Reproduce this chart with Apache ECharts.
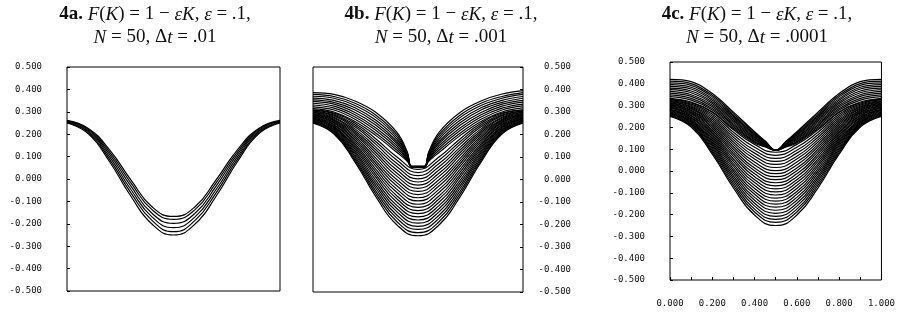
<!DOCTYPE html>
<html>
<head>
<meta charset="utf-8">
<script src="https://cdn.jsdelivr.net/npm/echarts@6/dist/echarts.min.js"></script>
<style>
  html, body { margin: 0; padding: 0; background: #fff; }
  #chart { width: 898px; height: 322px; }
</style>
</head>
<body>
<div id="chart"></div>
<script>
// sample positions along K (x axis) for the U-shaped curves
var xsU = [0, 0.1, 0.2, 0.3, 0.4, 0.5, 0.6, 0.7, 0.8, 0.9, 1];

// 4a: dt = .01
var curvesA = [
  [.250, .202, .077, -.077, -.202, -.250, -.202, -.077, .077, .202, .250],
  [.252, .207, .088, -.062, -.186, -.235, -.186, -.062, .088, .207, .252],
  [.255, .212, .099, -.047, -.170, -.217, -.170, -.047, .099, .212, .255],
  [.257, .217, .110, -.032, -.154, -.198, -.154, -.032, .110, .217, .257],
  [.260, .222, .120, -.017, -.138, -.180, -.138, -.017, .120, .222, .260],
  [.262, .226, .130, -.004, -.125, -.167, -.125, -.004, .130, .226, .262]
];

// 4b: dt = .001, rounded curves
var curvesBU = [
  [.250, .202, .077, -.077, -.202, -.250, -.202, -.077, .077, .202, .250],
  [.253, .206, .085, -.065, -.188, -.236, -.188, -.065, .085, .206, .253],
  [.256, .211, .093, -.053, -.173, -.222, -.173, -.053, .093, .211, .256],
  [.259, .215, .102, -.040, -.159, -.208, -.159, -.040, .102, .215, .259],
  [.261, .220, .110, -.028, -.144, -.194, -.144, -.028, .110, .220, .261],
  [.264, .224, .118, -.016, -.130, -.180, -.130, -.016, .118, .224, .264],
  [.267, .229, .126, -.004, -.116, -.166, -.116, -.004, .126, .229, .267],
  [.270, .233, .135, .009, -.101, -.152, -.101, .009, .135, .233, .270],
  [.273, .237, .143, .021, -.087, -.138, -.087, .021, .143, .237, .273],
  [.276, .242, .151, .033, -.073, -.124, -.073, .033, .151, .242, .276],
  [.279, .246, .159, .045, -.058, -.110, -.058, .045, .159, .246, .279],
  [.281, .251, .168, .058, -.044, -.095, -.044, .058, .168, .251, .281],
  [.284, .255, .176, .070, -.029, -.081, -.029, .070, .176, .255, .284],
  [.287, .260, .184, .082, -.015, -.067, -.015, .082, .184, .260, .287],
  [.290, .264, .192, .094, -.001, -.053, -.001, .094, .192, .264, .290],
  [.293, .268, .201, .107, .014, -.039, .014, .107, .201, .268, .293],
  [.296, .273, .209, .119, .028, -.025, .028, .119, .209, .273, .296],
  [.299, .277, .217, .131, .042, -.011, .042, .131, .217, .277, .299],
  [.301, .282, .225, .143, .057, .003, .057, .143, .225, .282, .301],
  [.304, .286, .234, .156, .071, .017, .071, .156, .234, .286, .304],
  [.307, .291, .242, .168, .086, .031, .086, .168, .242, .291, .307],
  [.310, .295, .250, .180, .100, .045, .100, .180, .250, .295, .310]
];

// 4b: curves that fall into the notch
var xsBV = [0, 0.1, 0.2, 0.3, 0.4, 0.45, 0.47, 0.53, 0.55, 0.6, 0.7, 0.8, 0.9, 1];
var curvesBV = [
  [.315, .300, .258, .195, .120, .080, .055, .055, .080, .120, .195, .258, .300, .318],
  [.323, .309, .268, .206, .130, .084, .055, .055, .084, .130, .206, .268, .309, .327],
  [.331, .317, .278, .218, .140, .089, .056, .056, .089, .140, .218, .278, .317, .335],
  [.339, .326, .288, .229, .150, .093, .056, .056, .093, .150, .229, .288, .326, .344],
  [.347, .335, .298, .241, .160, .098, .057, .057, .098, .160, .241, .298, .335, .352],
  [.354, .343, .309, .252, .169, .102, .057, .057, .102, .169, .252, .309, .343, .361],
  [.362, .352, .319, .263, .179, .107, .057, .057, .107, .179, .263, .319, .352, .369],
  [.370, .361, .329, .275, .189, .111, .058, .058, .111, .189, .275, .329, .361, .378],
  [.378, .369, .339, .286, .199, .116, .058, .058, .116, .199, .286, .339, .369, .386],
  [.386, .378, .349, .298, .209, .120, .058, .058, .120, .209, .298, .349, .380, .395]
];

// 4c: dt = .0001, rounded curves
var curvesCU = [
  [.250, .202, .077, -.077, -.202, -.250, -.202, -.077, .077, .202, .250],
  [.253, .207, .085, -.066, -.188, -.236, -.188, -.066, .085, .207, .253],
  [.257, .211, .093, -.055, -.175, -.222, -.175, -.055, .093, .211, .257],
  [.260, .216, .101, -.044, -.161, -.208, -.161, -.044, .101, .216, .260],
  [.263, .220, .109, -.033, -.148, -.194, -.148, -.033, .109, .220, .263],
  [.267, .225, .117, -.022, -.134, -.180, -.134, -.022, .117, .225, .267],
  [.270, .229, .125, -.011, -.121, -.166, -.121, -.011, .125, .229, .270],
  [.273, .234, .133, .000, -.107, -.152, -.107, .000, .133, .234, .273],
  [.277, .238, .141, .011, -.094, -.138, -.094, .011, .141, .238, .277],
  [.280, .243, .149, .022, -.080, -.124, -.080, .022, .149, .243, .280],
  [.283, .247, .157, .033, -.067, -.110, -.067, .033, .157, .247, .283],
  [.287, .252, .165, .044, -.053, -.096, -.053, .044, .165, .252, .287],
  [.290, .256, .173, .055, -.040, -.082, -.040, .055, .173, .256, .290],
  [.293, .261, .180, .067, -.026, -.068, -.026, .067, .180, .261, .293],
  [.297, .266, .188, .078, -.013, -.054, -.013, .078, .188, .266, .297],
  [.300, .270, .196, .089, .001, -.040, .001, .089, .196, .270, .300],
  [.303, .275, .204, .100, .014, -.026, .014, .100, .204, .275, .303],
  [.307, .279, .212, .111, .028, -.012, .028, .111, .212, .279, .307],
  [.310, .284, .220, .122, .041, .002, .041, .122, .220, .284, .310],
  [.313, .288, .228, .133, .055, .016, .055, .133, .228, .288, .313],
  [.317, .293, .236, .144, .068, .030, .068, .144, .236, .293, .317],
  [.320, .297, .244, .155, .082, .044, .082, .155, .244, .297, .320],
  [.323, .302, .252, .166, .095, .058, .095, .166, .252, .302, .323],
  [.327, .307, .260, .178, .109, .072, .109, .178, .260, .307, .327],
  [.330, .312, .268, .189, .122, .086, .122, .189, .268, .312, .330]
];

// 4c: curves meeting in the cusp
var xsCV = [0, 0.1, 0.2, 0.3, 0.4, 0.45, 0.5, 0.55, 0.6, 0.7, 0.8, 0.9, 1];
var curvesCV = [
  [.333, .316, .272, .195, .128, .110, .095, .110, .128, .195, .272, .316, .333],
  [.341, .325, .280, .202, .133, .113, .095, .113, .133, .202, .280, .325, .341],
  [.349, .333, .287, .209, .137, .115, .095, .115, .137, .209, .287, .333, .349],
  [.357, .342, .295, .215, .142, .118, .095, .118, .142, .215, .295, .342, .357],
  [.365, .350, .302, .222, .147, .120, .095, .120, .147, .222, .302, .350, .365],
  [.373, .359, .310, .229, .152, .123, .095, .123, .152, .229, .310, .359, .373],
  [.380, .367, .317, .236, .156, .125, .095, .125, .156, .236, .317, .367, .380],
  [.388, .376, .325, .243, .161, .128, .095, .128, .161, .243, .325, .376, .388],
  [.396, .384, .332, .250, .166, .130, .095, .130, .166, .250, .332, .384, .396],
  [.404, .393, .340, .256, .170, .133, .095, .133, .170, .256, .340, .393, .404],
  [.412, .401, .347, .263, .175, .135, .095, .135, .175, .263, .347, .401, .412],
  [.420, .410, .355, .270, .180, .138, .095, .138, .180, .270, .355, .410, .420]
];

var titles = [
  '{b|4a.} {i|F}({i|K}) = 1 − {i|εK}, {i|ε} = .1,\n{i|N} = 50, Δ{i|t} = .01',
  '{b|4b.} {i|F}({i|K}) = 1 − {i|εK}, {i|ε} = .1,\n{i|N} = 50, Δ{i|t} = .001',
  '{b|4c.} {i|F}({i|K}) = 1 − {i|εK}, {i|ε} = .1,\n{i|N} = 50, Δ{i|t} = .0001'
];

var chart = echarts.init(document.getElementById('chart'));

var serif = 'Liberation Serif';
var mono = 'DejaVu Sans Mono';
function fmt(v) { return v.toFixed(3); }

function makeTitle(text, cx) {
  return {
    text: text, left: cx, top: 3, textAlign: 'center', padding: 0,
    textStyle: {
      fontFamily: serif, fontSize: 19, fontWeight: 'normal', color: '#111', lineHeight: 23,
      rich: {
        b: { fontFamily: serif, fontSize: 19, fontWeight: 'bold', color: '#111', lineHeight: 23 },
        i: { fontFamily: serif, fontSize: 19, fontStyle: 'italic', color: '#111', lineHeight: 23 }
      }
    }
  };
}

function yAxisFor(idx, pos, margin) {
  return {
    gridIndex: idx, type: 'value', position: pos, min: -0.5, max: 0.5, interval: 0.1,
    axisLine: { show: false, onZero: false },
    axisTick: { show: true, inside: true, length: 3, lineStyle: { color: '#000', width: 1 } },
    splitLine: { show: false },
    axisLabel: {
      margin: margin, align: 'right', fontFamily: mono, fontSize: 9, color: '#111',
      formatter: fmt
    }
  };
}

function xAxisFor(idx, withLabels) {
  return {
    gridIndex: idx, type: 'value', position: 'bottom', min: 0, max: 1, interval: 0.1,
    axisLine: { show: false, onZero: false },
    axisTick: { show: withLabels, inside: true, length: 3, lineStyle: { color: '#000', width: 1 } },
    splitLine: { show: false },
    axisLabel: {
      show: withLabels, margin: 19, fontFamily: mono, fontSize: 9, color: '#111',
      formatter: function (v) {
        return Math.round(v * 10) % 2 === 0 ? fmt(v) : '';
      }
    }
  };
}

var series = [];
function addFamily(idx, xs, rows, smooth) {
  rows.forEach(function (r) {
    series.push({
      type: 'line', xAxisIndex: idx, yAxisIndex: idx,
      data: xs.map(function (x, i) { return [x, r[i]]; }),
      smooth: smooth, symbol: 'none', silent: true,
      lineStyle: { color: '#000', width: 1.2 }
    });
  });
}
addFamily(0, xsU, curvesA, 0.5);
addFamily(1, xsU, curvesBU, 0.5);
addFamily(1, xsBV, curvesBV, 0.4);
addFamily(2, xsU, curvesCU, 0.5);
addFamily(2, xsCV, curvesCV, 0.4);

var gridStyle = { show: true, borderColor: '#000', borderWidth: 1, backgroundColor: 'transparent' };

chart.setOption({
  animation: false,
  backgroundColor: '#fff',
  title: [makeTitle(titles[0], 155), makeTitle(titles[1], 441), makeTitle(titles[2], 757)],
  grid: [
    Object.assign({ left: 67, top: 67, width: 213, height: 224 }, gridStyle),
    Object.assign({ left: 313, top: 67, width: 210, height: 225 }, gridStyle),
    Object.assign({ left: 670, top: 62, width: 213, height: 218 }, gridStyle)
  ],
  xAxis: [xAxisFor(0, false), xAxisFor(1, false), xAxisFor(2, true)],
  yAxis: [yAxisFor(0, 'left', 25), yAxisFor(1, 'right', 48), yAxisFor(2, 'left', 25)],
  series: series
});
</script>
</body>
</html>
